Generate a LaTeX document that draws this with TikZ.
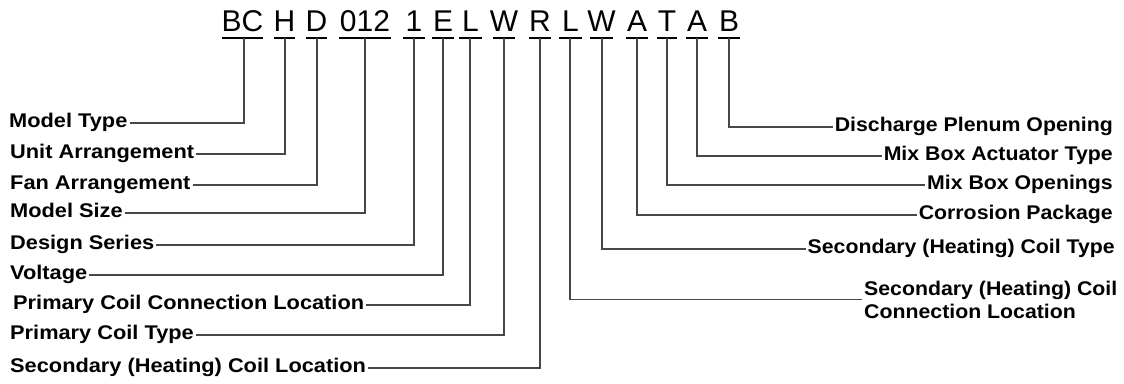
\documentclass[tikz,border=0pt]{standalone}
\usepackage{fontspec}
\setmainfont{Liberation Sans}
\newfontfamily\codefont{Liberation Sans}
\newfontfamily\lblfont[FakeStretch=1.1]{Liberation Sans}
\newfontfamily\lblfontR[FakeStretch=1.075]{Liberation Sans}
\begin{document}
\begin{tikzpicture}[x=1pt,y=-1pt,
  code/.style={font=\codefont\fontsize{30}{30}\selectfont, inner sep=0pt, anchor=base},
  uline/.style={line width=1.7pt, black},
  conn/.style={line width=1.2pt, black!72},
  lbl/.style={font=\lblfont\bfseries\fontsize{19.8}{23}\selectfont, inner xsep=2pt, inner ysep=0pt, text height=9.4pt, text depth=0pt},
  lblL/.style={lbl, anchor=west},
  lblR/.style={lbl, font=\lblfontR\bfseries\fontsize{19.8}{23}\selectfont, anchor=east},
  lbltwo/.style={font=\lblfontR\bfseries\fontsize{19.8}{23}\selectfont, inner xsep=2pt, inner ysep=0pt, align=left, anchor=west}]
\useasboundingbox (0,0) rectangle (1124,383);
% code letters
\node[code] (tBC) at (242.5,31.5) {BC};
\node[code] (tH) at (284.5,31.5) {H};
\node[code] (tD) at (316.5,31.5) {D};
\node[code] (t012) at (365,31.5) {012};
\node[code] (t1) at (414,31.5) {1};
\node[code] (tE) at (443,31.5) {E};
\node[code] (tL) at (470.5,31.5) {L};
\node[code] (tW) at (504,31.5) {W};
\node[code] (tR) at (540,31.5) {R};
\node[code] (tL2) at (570.5,31.5) {L};
\node[code] (tW2) at (601.5,31.5) {W};
\node[code] (tA) at (637,31.5) {A};
\node[code] (tT) at (667,31.5) {T};
\node[code] (tA2) at (697,31.5) {A};
\node[code] (tB) at (729,31.5) {B};
% underlines
\draw[uline] (222,38) -- (263,38);
\draw[uline] (274,38) -- (295,38);
\draw[uline] (306,38) -- (327,38);
\draw[uline] (339,38) -- (391,38);
\draw[uline] (403,38) -- (425,38);
\draw[uline] (432,38) -- (454,38);
\draw[uline] (459,38) -- (482,38);
\draw[uline] (493,38) -- (515,38);
\draw[uline] (529,38) -- (551,38);
\draw[uline] (559,38) -- (582,38);
\draw[uline] (590,38) -- (613,38);
\draw[uline] (626,38) -- (648,38);
\draw[uline] (657,38) -- (677,38);
\draw[uline] (686,38) -- (708,38);
\draw[uline] (718,38) -- (740,38);
% connector start points
\coordinate (uBC) at (244,38);
\coordinate (uH) at (285,38);
\coordinate (uD) at (317,38);
\coordinate (u012) at (365,38);
\coordinate (u1) at (414,38);
\coordinate (uE) at (443,38);
\coordinate (uL) at (470,38);
\coordinate (uW) at (504,38);
\coordinate (uR) at (540,38);
\coordinate (uL2) at (570,38);
\coordinate (uW2) at (602,38);
\coordinate (uA) at (637,38);
\coordinate (uT) at (667,38);
\coordinate (uA2) at (697,38);
\coordinate (uB) at (729,38);
% left labels
\node[lblL] (mt) at (7,123) {Model Type};
\node[lblL] (ua) at (8,154) {Unit Arrangement};
\node[lblL] (fa) at (8,185) {Fan Arrangement};
\node[lblL] (ms) at (8,213) {Model Size};
\node[lblL] (ds) at (8,245) {Design Series};
\node[lblL] (vo) at (8,275) {Voltage};
\node[lblL] (pccl) at (11,305) {Primary Coil Connection Location};
\node[lblL] (pct) at (8,335) {Primary Coil Type};
\node[lblL] (shcl) at (8,368) {Secondary (Heating) Coil Location};
% right labels
\node[lblR] (dpo) at (1115,127) {Discharge Plenum Opening};
\node[lblR] (mbat) at (1115,156) {Mix Box Actuator Type};
\node[lblR] (mbo) at (1115,185) {Mix Box Openings};
\node[lblR] (cp) at (1115,215) {Corrosion Package};
\node[lblR] (shct) at (1117,249) {Secondary (Heating) Coil Type};
\node[lbltwo] (shccl) at (862,299.5) {Secondary (Heating) Coil\\Connection Location};
% connectors
\draw[conn] (mt.east) -| (uBC);
\draw[conn] (ua.east) -| (uH);
\draw[conn] (fa.east) -| (uD);
\draw[conn] (ms.east) -| (u012);
\draw[conn] (ds.east) -| (u1);
\draw[conn] (vo.east) -| (uE);
\draw[conn] (pccl.east) -| (uL);
\draw[conn] (pct.east) -| (uW);
\draw[conn] (shcl.east) -| (uR);
\draw[conn] (uB) |- (dpo.west);
\draw[conn] (uA2) |- (mbat.west);
\draw[conn] (uT) |- (mbo.west);
\draw[conn] (uA) |- (cp.west);
\draw[conn] (uW2) |- (shct.west);
\draw[conn] (uL2) |- (shccl.west);
\end{tikzpicture}
\end{document}
